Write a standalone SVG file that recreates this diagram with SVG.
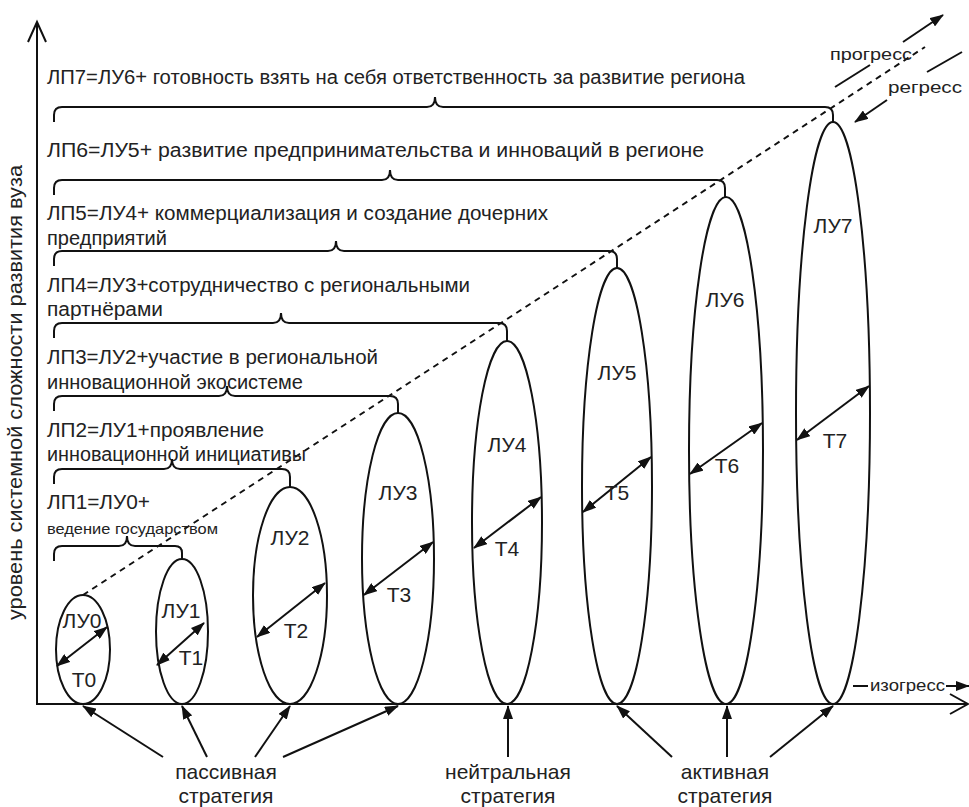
<svg xmlns="http://www.w3.org/2000/svg" width="969" height="807" viewBox="0 0 969 807">
<defs>
<marker id="ah" viewBox="0 0 14 10" refX="13" refY="5" markerWidth="14" markerHeight="10" markerUnits="userSpaceOnUse" orient="auto-start-reverse">
<path d="M0,0 L14,5 L0,10 z" fill="#111"/>
</marker>
</defs>
<style>
text{font-family:"Liberation Sans",Arial,sans-serif;fill:#222}
.t{font-size:20px}
.sm{font-size:15px}
.l{font-size:21px;text-anchor:middle}
.s{font-size:21px;text-anchor:middle}
.g{font-size:17px}
.ln{fill:none;stroke:#111;stroke-width:2}
.ell{fill:none;stroke:#111;stroke-width:2}
.arr{fill:none;stroke:#111;stroke-width:2;marker-end:url(#ah)}
.dbl{fill:none;stroke:#111;stroke-width:2;marker-start:url(#ah);marker-end:url(#ah)}
.dash{fill:none;stroke:#111;stroke-width:2;stroke-dasharray:6 5}
</style>
<rect width="969" height="807" fill="#fff"/>

<g id="axes">
<line class="ln" x1="37" y1="705" x2="37" y2="22"/>
<polyline class="ln" points="28,42 37,22 46,42"/>
<line class="ln" x1="36" y1="704" x2="968" y2="704"/>
<polyline class="ln" points="950,694 968,704 950,714"/>
<text class="t" transform="translate(22,620) rotate(-90)" textLength="455" lengthAdjust="spacingAndGlyphs">уровень системной сложности развития вуза</text>
</g>

<g id="trend">
<line class="dash" x1="83" y1="595" x2="925" y2="47"/>
<line class="ln" x1="835" y1="87" x2="870" y2="65"/>
<line class="ln" x1="927" y1="72" x2="962" y2="52"/>
<line class="arr" x1="903" y1="42" x2="943" y2="15"/>
<line class="arr" x1="887" y1="100" x2="855" y2="122"/>
<text class="g" x="830" y="60" textLength="82" lengthAdjust="spacingAndGlyphs">прогресс</text>
<text class="g" x="888" y="93" textLength="74" lengthAdjust="spacingAndGlyphs">регресс</text>
<line class="ln" x1="853" y1="686" x2="868" y2="686"/>
<text class="g" x="870" y="691" textLength="75" lengthAdjust="spacingAndGlyphs">изогресс</text>
<line class="arr" x1="946" y1="686" x2="969" y2="686"/>
</g>

<g id="levels-text">
<text class="t" x="47" y="84" textLength="698" lengthAdjust="spacingAndGlyphs">ЛП7=ЛУ6+ готовность взять на себя ответственность за развитие региона</text>
<text class="t" x="47" y="157" textLength="657" lengthAdjust="spacingAndGlyphs">ЛП6=ЛУ5+ развитие предпринимательства и инноваций в регионе</text>
<text class="t" x="47" y="220" textLength="501" lengthAdjust="spacingAndGlyphs">ЛП5=ЛУ4+ коммерциализация и создание дочерних</text>
<text class="t" x="47" y="245" textLength="120" lengthAdjust="spacingAndGlyphs">предприятий</text>
<text class="t" x="47" y="292" textLength="423" lengthAdjust="spacingAndGlyphs">ЛП4=ЛУ3+сотрудничество с региональными</text>
<text class="t" x="47" y="316" textLength="116" lengthAdjust="spacingAndGlyphs">партнёрами</text>
<text class="t" x="47" y="364" textLength="331" lengthAdjust="spacingAndGlyphs">ЛП3=ЛУ2+участие в региональной</text>
<text class="t" x="47" y="389" textLength="256" lengthAdjust="spacingAndGlyphs">инновационной экосистеме</text>
<text class="t" x="47" y="437" textLength="217" lengthAdjust="spacingAndGlyphs">ЛП2=ЛУ1+проявление</text>
<text class="t" x="47" y="461" textLength="259" lengthAdjust="spacingAndGlyphs">инновационной инициативы</text>
<text class="t" x="47" y="509" textLength="103" lengthAdjust="spacingAndGlyphs">ЛП1=ЛУ0+</text>
<text class="sm" x="47" y="534" textLength="171" lengthAdjust="spacingAndGlyphs">ведение государством</text>
</g>

<g id="connectors">
<path class="ln" d="M54,122 L54,115 Q54,107 62,107 L427,107 Q435,107 435,97 Q435,107 443,107 L825,107 Q833,107 833,115 L833,122"/>
<path class="ln" d="M54,195 L54,188 Q54,180 62,180 L382,180 Q390,180 390,170 Q390,180 398,180 L717,180 Q725,180 725,188 L725,197"/>
<path class="ln" d="M54,266 L54,259 Q54,251 62,251 L328,251 Q336,251 336,241 Q336,251 344,251 L609,251 Q617,251 617,259 L617,268"/>
<path class="ln" d="M54,338 L54,331 Q54,323 62,323 L273,323 Q281,323 281,313 Q281,323 289,323 L499,323 Q507,323 507,331 L507,341"/>
<path class="ln" d="M54,411 L54,404 Q54,396 62,396 L219,396 Q227,396 227,386 Q227,396 235,396 L390,396 Q398,396 398,404 L398,413"/>
<path class="ln" d="M54,484 L54,477 Q54,469 62,469 L164,469 Q172,469 172,459 Q172,469 180,469 L282,469 Q290,469 290,477 L290,487"/>
<path class="ln" d="M54,561 L54,554 Q54,546 62,546 L119,546 Q127,546 127,536 Q127,546 135,546 L175,546 Q182,546 182,553 L182,559"/>
<line class="arr" x1="163" y1="757" x2="83" y2="706"/>
<line class="arr" x1="207" y1="757" x2="182" y2="706"/>
<line class="arr" x1="255" y1="757" x2="290" y2="706"/>
<line class="arr" x1="283" y1="757" x2="398" y2="706"/>
<line class="arr" x1="508" y1="757" x2="508" y2="706"/>
<line class="arr" x1="672" y1="757" x2="617" y2="706"/>
<line class="arr" x1="727" y1="757" x2="727" y2="706"/>
<line class="arr" x1="770" y1="757" x2="833" y2="706"/>
</g>

<g id="LU0"><ellipse class="ell" cx="83" cy="649.5" rx="27" ry="54.5"/><text class="l" x="82" y="628">ЛУ0</text><line class="dbl" x1="57" y1="666" x2="107" y2="627"/><text class="l" x="84" y="687">Т0</text></g>
<g id="LU1"><ellipse class="ell" cx="182" cy="631.5" rx="26" ry="72.5"/><text class="l" x="181" y="618">ЛУ1</text><line class="dbl" x1="157" y1="665" x2="204" y2="623"/><text class="l" x="191" y="665">Т1</text></g>
<g id="LU2"><ellipse class="ell" cx="290" cy="595.5" rx="37" ry="108.5"/><text class="l" x="290" y="545">ЛУ2</text><line class="dbl" x1="257" y1="637" x2="325" y2="583"/><text class="l" x="296" y="638">Т2</text></g>
<g id="LU3"><ellipse class="ell" cx="398" cy="558.5" rx="36" ry="145.5"/><text class="l" x="398" y="500">ЛУ3</text><line class="dbl" x1="364" y1="595" x2="433" y2="542"/><text class="l" x="399" y="602">Т3</text></g>
<g id="LU4"><ellipse class="ell" cx="507" cy="522.5" rx="35" ry="181.5"/><text class="l" x="507" y="452">ЛУ4</text><line class="dbl" x1="474" y1="548" x2="541" y2="497"/><text class="l" x="507" y="556">Т4</text></g>
<g id="LU5"><ellipse class="ell" cx="617" cy="486" rx="35" ry="218"/><text class="l" x="617" y="380">ЛУ5</text><line class="dbl" x1="583" y1="512" x2="651" y2="457"/><text class="l" x="617" y="500">Т5</text></g>
<g id="LU6"><ellipse class="ell" cx="726" cy="450.5" rx="37" ry="253.5"/><text class="l" x="725" y="307">ЛУ6</text><line class="dbl" x1="690" y1="474" x2="762" y2="423"/><text class="l" x="727" y="473">Т6</text></g>
<g id="LU7"><ellipse class="ell" cx="833" cy="413" rx="37" ry="291"/><text class="l" x="833" y="233">ЛУ7</text><line class="dbl" x1="797" y1="440" x2="869" y2="386"/><text class="l" x="835" y="448">Т7</text></g>

<g id="strategies">
<text class="s" x="226" y="779">пассивная</text>
<text class="s" x="226" y="803">стратегия</text>
<text class="s" x="508" y="779">нейтральная</text>
<text class="s" x="508" y="803">стратегия</text>
<text class="s" x="725" y="779">активная</text>
<text class="s" x="725" y="803">стратегия</text>
</g>
</svg>
